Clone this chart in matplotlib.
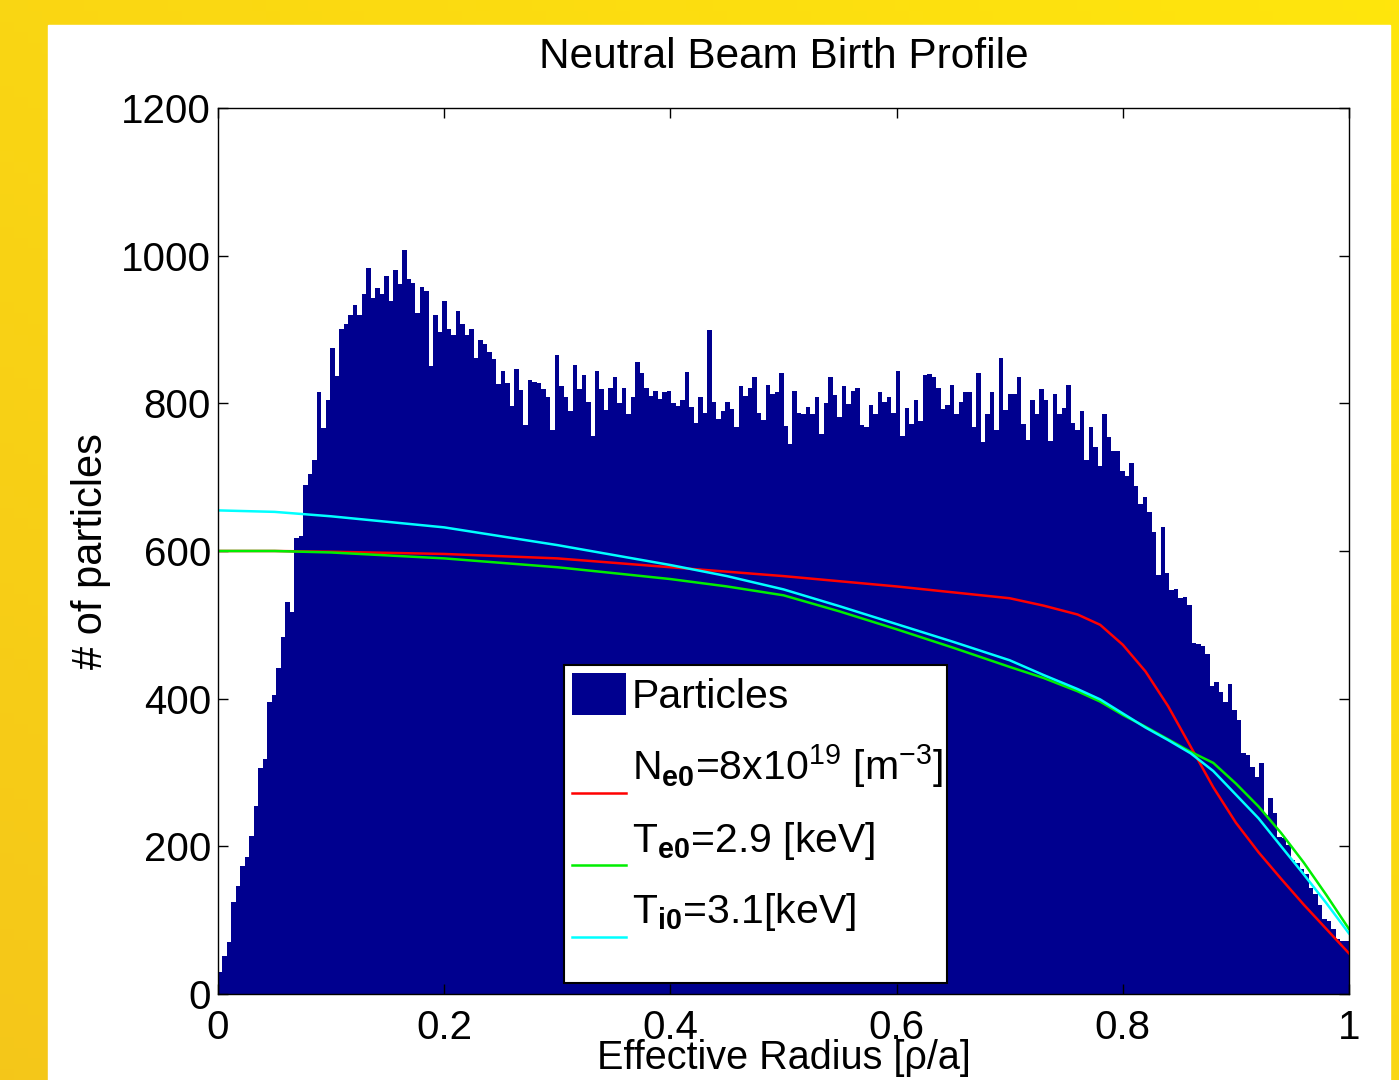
import numpy as np
import matplotlib.pyplot as plt
from matplotlib.legend_handler import HandlerLine2D
from matplotlib.patches import Rectangle

plt.rcParams['font.family'] = ['Liberation Sans', 'DejaVu Sans']
plt.rcParams['mathtext.fontset'] = 'custom'
plt.rcParams['mathtext.rm'] = 'Liberation Sans'
plt.rcParams['mathtext.it'] = 'Liberation Sans:italic'
plt.rcParams['mathtext.bf'] = 'Liberation Sans:bold'

# particle counts per radial bin (left to right)
counts = [
    30, 52, 70, 125, 146, 174, 186, 214, 255, 306, 318, 395, 405, 441, 483,
    531, 517, 618, 620, 689, 704, 723, 815, 767, 805, 875, 837, 900, 907, 919,
    933, 919, 948, 983, 942, 956, 948, 972, 938, 981, 962, 1008,
    968, 963, 922, 958, 952, 851, 919, 897, 939, 900, 893, 925, 908, 893, 900,
    862, 886, 881, 869, 860, 826, 844, 827, 796, 846, 818, 770, 831, 829, 828,
    820, 808, 764, 866, 823, 808, 789, 852, 820, 838, 802, 756, 844, 820,
    791, 821, 836, 800, 821, 785, 808, 856, 841, 821, 810, 817, 806, 815, 817,
    800, 796, 805, 842, 795, 773, 809, 787, 899, 802, 779, 789, 802, 792, 768,
    823, 810, 821, 835, 787, 777, 825, 812, 816, 841, 769, 745, 817,
    787, 785, 795, 785, 808, 759, 800, 836, 811, 781, 823, 799, 817, 821, 771,
    768, 798, 786, 815, 802, 809, 787, 844, 756, 794, 772, 805, 776, 838, 840,
    836, 821, 792, 798, 825, 786, 802, 815, 815, 768, 841, 747, 786,
    815, 764, 861, 791, 813, 812, 835, 772, 751, 805, 786, 819, 805, 749, 812,
    786, 794, 825, 773, 764, 789, 723, 768, 741, 715, 786, 755, 735, 735, 708,
    702, 719, 688, 663, 673, 653, 626, 568, 632, 570, 547, 549,
    537, 538, 527, 476, 474, 472, 460, 417, 422, 409, 396, 420, 384, 371, 326,
    324, 308, 294, 313, 243, 265, 245, 213, 211, 202, 182, 178, 169, 162, 144,
    135, 121, 101, 99, 88, 74, 72, 72,
]

# profile curves (scaled to the particle axis)
rho = [0, 0.05, 0.1, 0.2, 0.3, 0.4, 0.45, 0.5, 0.55, 0.6, 0.65, 0.7, 0.73,
       0.76, 0.78, 0.8, 0.82, 0.84, 0.86, 0.88, 0.9, 0.92, 0.94, 0.96,
       0.98, 1.0]
ne = [600, 600, 599, 596, 590, 578, 572, 566, 559, 552, 544, 536, 526,
      514, 500, 473, 437, 390, 335, 280, 232, 192, 156, 121, 88, 55]
te = [600, 600, 598, 590, 578, 562, 552, 540, 518, 494, 469, 443, 428,
      410, 396, 378, 362, 345, 328, 313, 285, 254, 218, 178, 134, 88]
ti = [655, 653, 647, 632, 608, 581, 566, 548, 525, 501, 477, 452, 432,
      413, 399, 380, 361, 344, 326, 302, 270, 238, 200, 162, 123, 82]

labels = ['Particles',
          r'N$_{\mathbf{e0}}$=8x10$^{19}$ [m$^{-3}$]',
          r'T$_{\mathbf{e0}}$=2.9 [keV]',
          r'T$_{\mathbf{i0}}$=3.1[keV]']

edges = np.linspace(0, 1, len(counts) + 1)
centers = (edges[:-1] + edges[1:]) / 2


class LowLine(HandlerLine2D):
    # MATLAB puts the line sample at the bottom of the entry
    def create_artists(self, legend, orig_handle, xdescent, ydescent,
                       width, height, fontsize, trans):
        arts = super().create_artists(legend, orig_handle, xdescent, ydescent,
                                      width, height, fontsize, trans)
        for a in arts:
            a.set_ydata(np.asarray(a.get_ydata()) - 0.75 * fontsize)
        return arts


fig = plt.figure(figsize=(13.99, 10.8), dpi=100)

# yellow slide background + white figure area
bg = fig.add_axes([0, 0, 1, 1])
bg.axis('off')
yy, xx = np.mgrid[0:1:100j, 0:1:100j]
t = (yy + xx) / 2
top = np.array([1.0, 0.90, 0.05])
low = np.array([0.96, 0.78, 0.10])
grad = low[None, None, :] * (1 - t[..., None]) + top[None, None, :] * t[..., None]
bg.imshow(grad, extent=[0, 1, 0, 1], origin='lower', aspect='auto')
bg.add_patch(Rectangle((48 / 1399, 0), (1390 - 48) / 1399, 1 - 25 / 1080,
                       color='white'))
bg.set_xlim(0, 1)
bg.set_ylim(0, 1)

ax = fig.add_axes([218 / 1399, 86 / 1080, 1131 / 1399, 886 / 1080])
ax.hist(centers, bins=edges, weights=counts, histtype='stepfilled',
        color='#00008F', label=labels[0])
ax.plot(rho, ne, color='#FF0000', lw=1.8, label=labels[1])
ax.plot(rho, te, color='#00EE00', lw=1.8, label=labels[2])
ax.plot(rho, ti, color='#00FFFF', lw=1.8, label=labels[3])

ax.set_xlim(0, 1)
ax.set_ylim(0, 1200)
ax.set_xticks([0, 0.2, 0.4, 0.6, 0.8, 1])
ax.set_xticklabels(['0', '0.2', '0.4', '0.6', '0.8', '1'])
ax.set_yticks(range(0, 1201, 200))
ax.tick_params(direction='in', top=True, right=True, length=7, width=1,
               labelsize=29)
ax.tick_params(axis='x', pad=11)
ax.tick_params(axis='y', pad=5)
for s in ax.spines.values():
    s.set_linewidth(1)

ax.set_title('Neutral Beam Birth Profile', fontsize=30.5, pad=29)
ax.set_xlabel('Effective Radius [ρ/a]', fontsize=28.5, labelpad=-6)
ax.set_ylabel('# of particles', fontsize=30, labelpad=7)

# MATLAB-style legend box (fixed size, entries at the top)
ax.add_patch(Rectangle((0.306, 0.0124), 0.3386, 0.3589,
                       transform=ax.transAxes, facecolor='white',
                       edgecolor='black', lw=1.5, zorder=4))
leg = ax.legend(loc='upper left', bbox_to_anchor=(0.306, 0.3713),
                borderaxespad=0, fontsize=29.5, handlelength=1.3,
                handleheight=1.2, handletextpad=0.15, labelspacing=0.65,
                borderpad=0.2, frameon=False,
                handler_map={plt.Line2D: LowLine()})
leg.set_zorder(5)

plt.savefig('out.png', dpi=100)
